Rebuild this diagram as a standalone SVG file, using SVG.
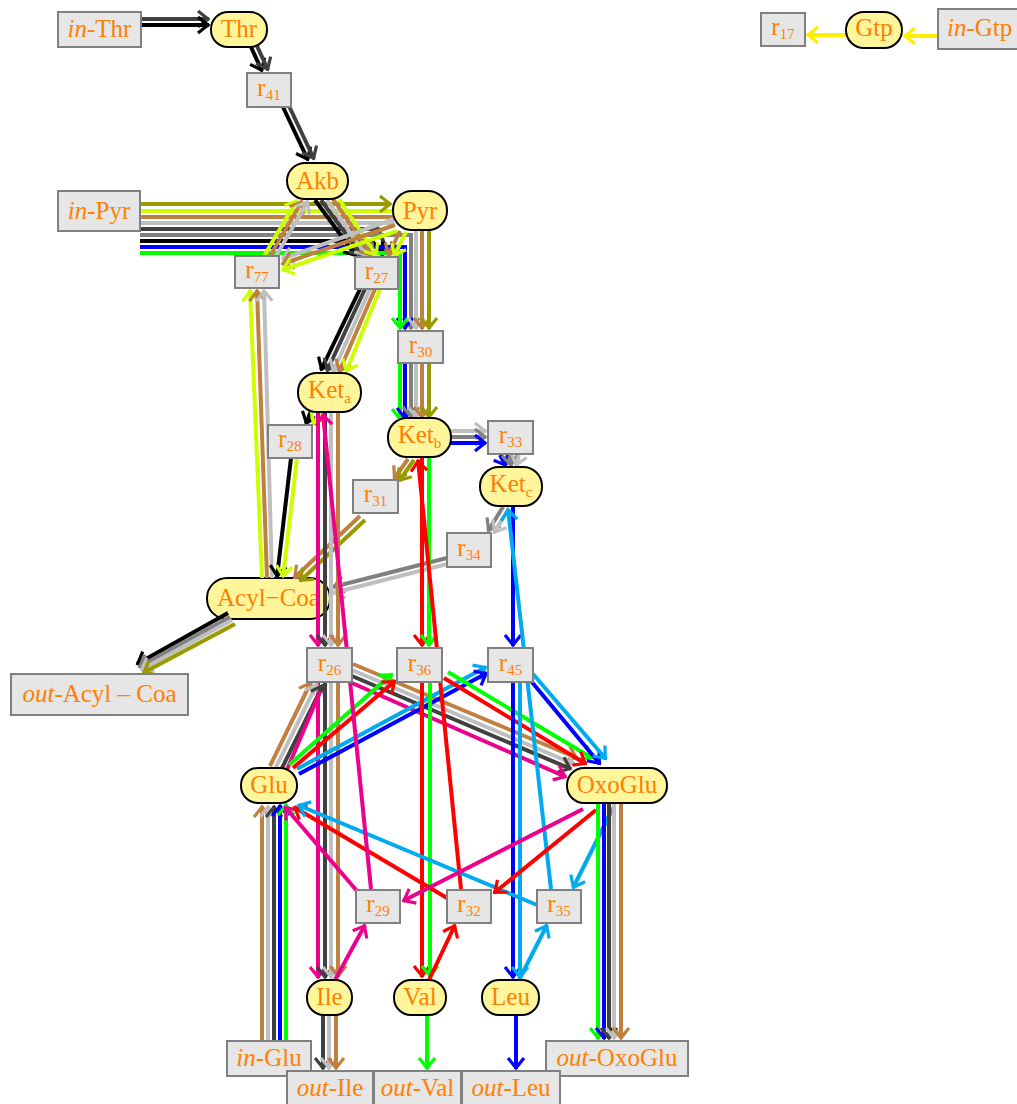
<svg xmlns="http://www.w3.org/2000/svg" width="1017" height="1104" viewBox="0 0 1017 1104">
<style>
.t{font-family:"Liberation Serif","Times New Roman",serif;font-size:25px;fill:#ff8000;text-anchor:middle}
.s{font-size:15px}
.i{font-style:italic}
.rn{fill:#fff59a;stroke:#000;stroke-width:2}
.bx{fill:#e6e6e6;stroke:#808080;stroke-width:2}
.e{fill:none;stroke-width:4}
marker path{fill:none;stroke-width:3.2}
.k{stroke:#000}.dg{stroke:#404040}.g{stroke:#808080}.lg{stroke:#bfbfbf}.br{stroke:#bf8040}.ol{stroke:#999900}.yg{stroke:#ccff00}.bl{stroke:#0000ff}.gr{stroke:#00ff00}.rd{stroke:#ff0000}.mg{stroke:#ec008c}.cy{stroke:#00aaee}.ye{stroke:#ffee00}
</style>
<defs>
<marker id="a-k" viewBox="-14 -10 16 20" refX="0" refY="0" markerWidth="16" markerHeight="20" markerUnits="userSpaceOnUse" orient="auto"><path class="k" d="M-11,-8 L-1,0 L-11,8"/></marker>
<marker id="a-dg" viewBox="-14 -10 16 20" refX="0" refY="0" markerWidth="16" markerHeight="20" markerUnits="userSpaceOnUse" orient="auto"><path class="dg" d="M-11,-8 L-1,0 L-11,8"/></marker>
<marker id="a-g" viewBox="-14 -10 16 20" refX="0" refY="0" markerWidth="16" markerHeight="20" markerUnits="userSpaceOnUse" orient="auto"><path class="g" d="M-11,-8 L-1,0 L-11,8"/></marker>
<marker id="a-lg" viewBox="-14 -10 16 20" refX="0" refY="0" markerWidth="16" markerHeight="20" markerUnits="userSpaceOnUse" orient="auto"><path class="lg" d="M-11,-8 L-1,0 L-11,8"/></marker>
<marker id="a-br" viewBox="-14 -10 16 20" refX="0" refY="0" markerWidth="16" markerHeight="20" markerUnits="userSpaceOnUse" orient="auto"><path class="br" d="M-11,-8 L-1,0 L-11,8"/></marker>
<marker id="a-ol" viewBox="-14 -10 16 20" refX="0" refY="0" markerWidth="16" markerHeight="20" markerUnits="userSpaceOnUse" orient="auto"><path class="ol" d="M-11,-8 L-1,0 L-11,8"/></marker>
<marker id="a-yg" viewBox="-14 -10 16 20" refX="0" refY="0" markerWidth="16" markerHeight="20" markerUnits="userSpaceOnUse" orient="auto"><path class="yg" d="M-11,-8 L-1,0 L-11,8"/></marker>
<marker id="a-bl" viewBox="-14 -10 16 20" refX="0" refY="0" markerWidth="16" markerHeight="20" markerUnits="userSpaceOnUse" orient="auto"><path class="bl" d="M-11,-8 L-1,0 L-11,8"/></marker>
<marker id="a-gr" viewBox="-14 -10 16 20" refX="0" refY="0" markerWidth="16" markerHeight="20" markerUnits="userSpaceOnUse" orient="auto"><path class="gr" d="M-11,-8 L-1,0 L-11,8"/></marker>
<marker id="a-rd" viewBox="-14 -10 16 20" refX="0" refY="0" markerWidth="16" markerHeight="20" markerUnits="userSpaceOnUse" orient="auto"><path class="rd" d="M-11,-8 L-1,0 L-11,8"/></marker>
<marker id="a-mg" viewBox="-14 -10 16 20" refX="0" refY="0" markerWidth="16" markerHeight="20" markerUnits="userSpaceOnUse" orient="auto"><path class="mg" d="M-11,-8 L-1,0 L-11,8"/></marker>
<marker id="a-cy" viewBox="-14 -10 16 20" refX="0" refY="0" markerWidth="16" markerHeight="20" markerUnits="userSpaceOnUse" orient="auto"><path class="cy" d="M-11,-8 L-1,0 L-11,8"/></marker>
<marker id="a-ye" viewBox="-14 -10 16 20" refX="0" refY="0" markerWidth="16" markerHeight="20" markerUnits="userSpaceOnUse" orient="auto"><path class="ye" d="M-11,-8 L-1,0 L-11,8"/></marker>
</defs>

<g id="node-AcylCoa"><rect class="rn" x="207" y="578" width="123" height="41" rx="20"/><text class="t" x="217" y="606" style="text-anchor:start">Acyl−Coa</text></g>

<g id="edges">
<path class="e dg" d="M141,19 H209" marker-end="url(#a-dg)"/>
<path class="e k" d="M141,25 H209" marker-end="url(#a-k)"/>
<path class="e k" d="M251,47 L262,71" marker-end="url(#a-k)"/>
<path class="e dg" d="M257,46 L268,70" marker-end="url(#a-dg)"/>
<path class="e k" d="M283,107 L308,160" marker-end="url(#a-k)"/>
<path class="e dg" d="M289,106 L314,159" marker-end="url(#a-dg)"/>

<path class="e yg" d="M140,211 H393"/>
<path class="e br" d="M140,217 H393"/>
<path class="e lg" d="M140,223 H394"/>
<path class="e dg" d="M140,229 H378 L389,255" marker-end="url(#a-dg)"/>
<path class="e g" d="M140,235 H411 V329" marker-end="url(#a-g)"/>
<path class="e k" d="M140,241 H372 L383,255" marker-end="url(#a-k)"/>
<path class="e bl" d="M140,247 H405 V329" marker-end="url(#a-bl)"/>
<path class="e gr" d="M140,253 H400 V329" marker-end="url(#a-gr)"/>
<path class="e ol" d="M140,204 H391" marker-end="url(#a-ol)"/>

<path class="e lg" d="M416,230 V329" marker-end="url(#a-lg)"/>
<path class="e br" d="M422,230 V329" marker-end="url(#a-br)"/>
<path class="e ol" d="M429,229 V329" marker-end="url(#a-ol)"/>
<path class="e gr" d="M400,363 V420" marker-end="url(#a-gr)"/>
<path class="e bl" d="M405,363 V419" marker-end="url(#a-bl)"/>
<path class="e g" d="M411,363 V418" marker-end="url(#a-g)"/>
<path class="e lg" d="M416,363 V418" marker-end="url(#a-lg)"/>
<path class="e br" d="M422,363 V418" marker-end="url(#a-br)"/>
<path class="e ol" d="M429,363 V418" marker-end="url(#a-ol)"/>

<path class="e yg" d="M264,256 L297,200" marker-end="url(#a-yg)"/>
<path class="e br" d="M270,256 L302,201" marker-end="url(#a-br)"/>
<path class="e lg" d="M276,256 L308,201" marker-end="url(#a-lg)"/>
<path class="e k" d="M315,200 L356,256" marker-end="url(#a-k)"/>
<path class="e dg" d="M321,200 L362,256" marker-end="url(#a-dg)"/>
<path class="e lg" d="M327,200 L367,256" marker-end="url(#a-lg)"/>
<path class="e br" d="M333,199 L372,256" marker-end="url(#a-br)"/>
<path class="e yg" d="M339,199 L377,256" marker-end="url(#a-yg)"/>
<path class="e lg" d="M394,219 L282,259" marker-end="url(#a-lg)"/>
<path class="e br" d="M395,225 L282,264" marker-end="url(#a-br)"/>
<path class="e yg" d="M397,231 L282,270" marker-end="url(#a-yg)"/>
<path class="e br" d="M400,231 L388,256" marker-end="url(#a-br)"/>
<path class="e yg" d="M406,232 L394,256" marker-end="url(#a-yg)"/>

<path class="e k" d="M360,289 L321,370" marker-end="url(#a-k)"/>
<path class="e dg" d="M365,289 L327,371" marker-end="url(#a-dg)"/>
<path class="e lg" d="M370,289 L333,372" marker-end="url(#a-lg)"/>
<path class="e br" d="M375,289 L339,372" marker-end="url(#a-br)"/>
<path class="e yg" d="M380,289 L346,372" marker-end="url(#a-yg)"/>

<path class="e yg" d="M262,578 L250,290" marker-end="url(#a-yg)"/>
<path class="e br" d="M267,578 L257,290" marker-end="url(#a-br)"/>
<path class="e lg" d="M272,578 L264,290" marker-end="url(#a-lg)"/>

<path class="e k" d="M311,411 L306,424" marker-end="url(#a-k)"/>
<path class="e yg" d="M320,412 L313,425" marker-end="url(#a-yg)"/>
<path class="e k" d="M291,458 L277,577" marker-end="url(#a-k)"/>
<path class="e yg" d="M297,458 L283,577" marker-end="url(#a-yg)"/>

<path class="e br" d="M408,459 L394,479" marker-end="url(#a-br)"/>
<path class="e ol" d="M414,460 L399,481" marker-end="url(#a-ol)"/>
<path class="e br" d="M360,516 L294,578" marker-end="url(#a-br)"/>
<path class="e ol" d="M365,520 L300,581" marker-end="url(#a-ol)"/>

<path class="e lg" d="M451,431 H486" marker-end="url(#a-lg)"/>
<path class="e g" d="M451,437 H486" marker-end="url(#a-g)"/>
<path class="e bl" d="M451,443 H486" marker-end="url(#a-bl)"/>
<path class="e bl" d="M500,455 L506,466" marker-end="url(#a-bl)"/>
<path class="e g" d="M510,455 L511,466" marker-end="url(#a-g)"/>
<path class="e lg" d="M519,455 L516,466" marker-end="url(#a-lg)"/>
<path class="e g" d="M503,507 L488,531" marker-end="url(#a-g)"/>
<path class="e lg" d="M509,508 L494,533" marker-end="url(#a-lg)"/>
<path class="e g" d="M447,558 L333,587" marker-end="url(#a-g)"/>
<path class="e lg" d="M447,564 L333,593" marker-end="url(#a-lg)"/>

<path class="e k" d="M228,613 L137,664" marker-end="url(#a-k)"/>
<path class="e g" d="M230,617 L139,667" marker-end="url(#a-g)"/>
<path class="e lg" d="M232,620 L141,670" marker-end="url(#a-lg)"/>
<path class="e ol" d="M235,624 L143,673" marker-end="url(#a-ol)"/>

<path class="e mg" d="M318,412 V646" marker-end="url(#a-mg)"/>
<path class="e dg" d="M325,412 V646" marker-end="url(#a-dg)"/>
<path class="e lg" d="M331,412 V646" marker-end="url(#a-lg)"/>
<path class="e br" d="M338,411 V646" marker-end="url(#a-br)"/>
<path class="e mg" d="M318,682 V978" marker-end="url(#a-mg)"/>
<path class="e dg" d="M325,682 V978" marker-end="url(#a-dg)"/>
<path class="e lg" d="M331,682 V978" marker-end="url(#a-lg)"/>
<path class="e br" d="M338,682 V977" marker-end="url(#a-br)"/>

<path class="e br" d="M270,766 L311,682" marker-end="url(#a-br)"/>
<path class="e lg" d="M276,767 L317,684" marker-end="url(#a-lg)"/>
<path class="e dg" d="M282,768 L323,685" marker-end="url(#a-dg)"/>
<path class="e mg" d="M286,772 L320,692"/>

<path class="e br" d="M353,664 L577,758" marker-end="url(#a-br)"/>
<path class="e lg" d="M352,670 L574,764" marker-end="url(#a-lg)"/>
<path class="e dg" d="M352,676 L571,769" marker-end="url(#a-dg)"/>
<path class="e mg" d="M352,683 L566,777" marker-end="url(#a-mg)"/>

<path class="e gr" d="M289,765 L392,674" marker-end="url(#a-gr)"/>
<path class="e rd" d="M293,768 L395,681" marker-end="url(#a-rd)"/>
<path class="e cy" d="M297,769 L486,667" marker-end="url(#a-cy)"/>
<path class="e bl" d="M299,774 L487,673" marker-end="url(#a-bl)"/>
<path class="e gr" d="M448,672 L592,758" marker-end="url(#a-gr)"/>
<path class="e rd" d="M444,678 L586,764" marker-end="url(#a-rd)"/>
<path class="e bl" d="M531,681 L600,764" marker-end="url(#a-bl)"/>
<path class="e cy" d="M533,674 L606,759" marker-end="url(#a-cy)"/>

<path class="e rd" d="M422,457 V646" marker-end="url(#a-rd)"/>
<path class="e gr" d="M429,457 V646" marker-end="url(#a-gr)"/>
<path class="e rd" d="M422,682 V977" marker-end="url(#a-rd)"/>
<path class="e gr" d="M430,682 V977" marker-end="url(#a-gr)"/>
<path class="e rd" d="M461,889 L418,460" marker-end="url(#a-rd)"/>

<path class="e bl" d="M513,506 V646" marker-end="url(#a-bl)"/>
<path class="e cy" d="M551,889 L508,509" marker-end="url(#a-cy)"/>
<path class="e bl" d="M513,682 V978" marker-end="url(#a-bl)"/>
<path class="e cy" d="M520,682 V978" marker-end="url(#a-cy)"/>

<path class="e br" d="M262,1041 V806" marker-end="url(#a-br)"/>
<path class="e lg" d="M268,1041 V806" marker-end="url(#a-lg)"/>
<path class="e dg" d="M274,1041 V806" marker-end="url(#a-dg)"/>
<path class="e bl" d="M280,1041 V805" marker-end="url(#a-bl)"/>
<path class="e gr" d="M286,1041 V804" marker-end="url(#a-gr)"/>

<path class="e mg" d="M357,891 L285,807" marker-end="url(#a-mg)"/>
<path class="e rd" d="M447,898 L294,807" marker-end="url(#a-rd)"/>
<path class="e cy" d="M537,905 L298,805" marker-end="url(#a-cy)"/>
<path class="e mg" d="M583,809 L403,901" marker-end="url(#a-mg)"/>
<path class="e rd" d="M596,810 L494,893" marker-end="url(#a-rd)"/>
<path class="e cy" d="M613,808 L573,888" marker-end="url(#a-cy)"/>
<path class="e mg" d="M335,980 L365,925" marker-end="url(#a-mg)"/>
<path class="e rd" d="M429,980 L455,925" marker-end="url(#a-rd)"/>
<path class="e cy" d="M519,980 L547,925" marker-end="url(#a-cy)"/>
<path class="e mg" d="M371,889 L323,414" marker-end="url(#a-mg)"/>

<path class="e gr" d="M598,803 V1039" marker-end="url(#a-gr)"/>
<path class="e bl" d="M604,803 V1039" marker-end="url(#a-bl)"/>
<path class="e dg" d="M609,803 V1039" marker-end="url(#a-dg)"/>
<path class="e lg" d="M614,803 V1039" marker-end="url(#a-lg)"/>
<path class="e br" d="M621,803 V1039" marker-end="url(#a-br)"/>

<path class="e dg" d="M323,1015 V1069" marker-end="url(#a-dg)"/>
<path class="e lg" d="M329,1015 V1069" marker-end="url(#a-lg)"/>
<path class="e br" d="M336,1015 V1069" marker-end="url(#a-br)"/>
<path class="e gr" d="M427,1015 V1069" marker-end="url(#a-gr)"/>
<path class="e bl" d="M516,1015 V1069" marker-end="url(#a-bl)"/>

<path class="e ye" d="M938,36 H904" marker-end="url(#a-ye)"/>
<path class="e ye" d="M846,35 H807" marker-end="url(#a-ye)"/>
</g>

<g id="node-inThr"><rect class="bx" x="58" y="12" width="83" height="35"/><text class="t" x="99.5" y="37"><tspan class="i">in</tspan>-Thr</text></g>
<g id="node-Thr"><rect class="rn" x="211" y="12" width="56" height="35" rx="17"/><text class="t" x="239" y="37">Thr</text></g>
<g id="node-r41"><rect class="bx" x="247" y="73" width="44" height="34"/><text class="t" x="269" y="95.5">r<tspan class="s" dy="4">41</tspan></text></g>
<g id="node-Akb"><rect class="rn" x="287" y="163" width="61" height="36" rx="18"/><text class="t" x="317.5" y="189">Akb</text></g>
<g id="node-inPyr"><rect class="bx" x="58" y="191" width="82" height="40"/><text class="t" x="99" y="219"><tspan class="i">in</tspan>-Pyr</text></g>
<g id="node-Pyr"><rect class="rn" x="393" y="191" width="54" height="39" rx="19"/><text class="t" x="420" y="219">Pyr</text></g>
<g id="node-r77"><rect class="bx" x="235" y="256" width="44" height="32"/><text class="t" x="257" y="277.5">r<tspan class="s" dy="4">77</tspan></text></g>
<g id="node-r27"><rect class="bx" x="355" y="257" width="43" height="32"/><text class="t" x="376.5" y="278.5">r<tspan class="s" dy="4">27</tspan></text></g>
<g id="node-r30"><rect class="bx" x="398" y="331" width="45" height="32"/><text class="t" x="420.5" y="352.5">r<tspan class="s" dy="4">30</tspan></text></g>
<g id="node-Keta"><rect class="rn" x="298" y="373" width="63" height="39" rx="19"/><text class="t" x="329.5" y="398">Ket<tspan class="s" dy="5">a</tspan></text></g>
<g id="node-Ketb"><rect class="rn" x="388" y="418" width="63" height="39" rx="19"/><text class="t" x="419.5" y="443">Ket<tspan class="s" dy="5">b</tspan></text></g>
<g id="node-r28"><rect class="bx" x="268" y="425" width="44" height="33"/><text class="t" x="290" y="447">r<tspan class="s" dy="4">28</tspan></text></g>
<g id="node-r33"><rect class="bx" x="488" y="421" width="45" height="33"/><text class="t" x="510.5" y="443">r<tspan class="s" dy="4">33</tspan></text></g>
<g id="node-Ketc"><rect class="rn" x="480" y="467" width="62" height="39" rx="19"/><text class="t" x="511" y="492">Ket<tspan class="s" dy="5">c</tspan></text></g>
<g id="node-r31"><rect class="bx" x="353" y="480" width="45" height="33"/><text class="t" x="375.5" y="502">r<tspan class="s" dy="4">31</tspan></text></g>
<g id="node-r34"><rect class="bx" x="447" y="533" width="44" height="34"/><text class="t" x="469" y="555.5">r<tspan class="s" dy="4">34</tspan></text></g>
<g id="node-outAcylCoa"><rect class="bx" x="11" y="674" width="177" height="41"/><text class="t" x="99.5" y="702"><tspan class="i">out</tspan>-Acyl – Coa</text></g>
<g id="node-r26"><rect class="bx" x="307" y="648" width="45" height="34"/><text class="t" x="329.5" y="670.5">r<tspan class="s" dy="4">26</tspan></text></g>
<g id="node-r36"><rect class="bx" x="397" y="648" width="45" height="34"/><text class="t" x="419.5" y="670.5">r<tspan class="s" dy="4">36</tspan></text></g>
<g id="node-r45"><rect class="bx" x="488" y="648" width="45" height="34"/><text class="t" x="510.5" y="670.5">r<tspan class="s" dy="4">45</tspan></text></g>
<g id="node-Glu"><rect class="rn" x="241" y="768" width="56" height="35" rx="17"/><text class="t" x="269" y="793">Glu</text></g>
<g id="node-OxoGlu"><rect class="rn" x="567" y="768" width="100" height="35" rx="17"/><text class="t" x="617" y="793">OxoGlu</text></g>
<g id="node-r29"><rect class="bx" x="356" y="890" width="44" height="33"/><text class="t" x="378" y="912">r<tspan class="s" dy="4">29</tspan></text></g>
<g id="node-r32"><rect class="bx" x="447" y="890" width="44" height="33"/><text class="t" x="469" y="912">r<tspan class="s" dy="4">32</tspan></text></g>
<g id="node-r35"><rect class="bx" x="537" y="890" width="44" height="33"/><text class="t" x="559" y="912">r<tspan class="s" dy="4">35</tspan></text></g>
<g id="node-Ile"><rect class="rn" x="307" y="980" width="45" height="35" rx="17"/><text class="t" x="329.5" y="1005">Ile</text></g>
<g id="node-Val"><rect class="rn" x="394" y="980" width="52" height="35" rx="17"/><text class="t" x="420" y="1005">Val</text></g>
<g id="node-Leu"><rect class="rn" x="482" y="980" width="57" height="35" rx="17"/><text class="t" x="510.5" y="1005">Leu</text></g>
<g id="node-inGlu"><rect class="bx" x="227" y="1041" width="84" height="35"/><text class="t" x="269" y="1066"><tspan class="i">in</tspan>-Glu</text></g>
<g id="node-outOxoGlu"><rect class="bx" x="546" y="1041" width="142" height="35"/><text class="t" x="617" y="1066"><tspan class="i">out</tspan>-OxoGlu</text></g>
<g id="node-outIle"><rect class="bx" x="287" y="1071" width="86" height="40"/><text class="t" x="330" y="1096"><tspan class="i">out</tspan>-Ile</text></g>
<g id="node-outVal"><rect class="bx" x="374" y="1071" width="87" height="40"/><text class="t" x="417.5" y="1096"><tspan class="i">out</tspan>-Val</text></g>
<g id="node-outLeu"><rect class="bx" x="462" y="1071" width="98" height="40"/><text class="t" x="511" y="1096"><tspan class="i">out</tspan>-Leu</text></g>
<g id="node-r17"><rect class="bx" x="761" y="13" width="44" height="33"/><text class="t" x="783" y="35">r<tspan class="s" dy="4">17</tspan></text></g>
<g id="node-Gtp"><rect class="rn" x="846" y="12" width="56" height="36" rx="18"/><text class="t" x="874" y="36">Gtp</text></g>
<g id="node-inGtp"><rect class="bx" x="938" y="9" width="85" height="40"/><text class="t" x="947" y="36" style="text-anchor:start"><tspan class="i">in</tspan>-Gtp</text></g>
</svg>
